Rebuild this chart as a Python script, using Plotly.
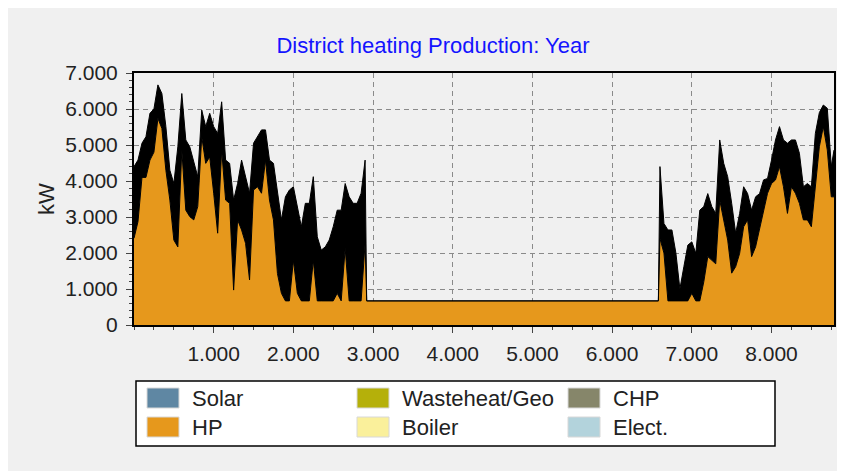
import plotly.graph_objects as go

# ---------------- data ----------------
hours = [0, 50, 100, 150, 200, 250, 300, 350, 400, 450, 500, 550, 600, 650, 700,
         750, 800, 850, 900, 950, 1000, 1050, 1100, 1150, 1200, 1250, 1300, 1350,
         1400, 1450, 1500, 1550, 1600, 1650, 1700, 1750, 1800, 1850, 1900, 1950,
         2000, 2050, 2100, 2150, 2200, 2250, 2300, 2350, 2400, 2450, 2500, 2550,
         2600, 2650, 2700, 2750, 2800, 2850, 2900, 2920, 6580, 6600, 6650, 6700,
         6750, 6800, 6850, 6900, 6950, 7000, 7050, 7100, 7150, 7200, 7250, 7300,
         7350, 7400, 7450, 7500, 7550, 7600, 7650, 7700, 7750, 7800, 7850, 7900,
         7950, 8000, 8050, 8100, 8150, 8200, 8250, 8300, 8350, 8400, 8450, 8500,
         8550, 8600, 8650, 8700, 8750, 8784]

# HP production (orange area)
hp = [2410, 2870, 4100, 4100, 4580, 4800, 5740, 5460, 4300, 3470, 2360, 2170, 4860,
      3190, 3010, 2920, 3290, 5230, 4490, 4670, 3660, 2550, 4860, 3470, 3380, 970,
      2920, 2640, 2270, 1250, 3750, 3840, 3660, 4580, 3470, 2920, 1430, 880, 670,
      670, 1800, 880, 670, 670, 670, 1800, 670, 670, 670, 670, 670, 880, 670, 2130,
      670, 670, 670, 670, 2270, 670, 670, 2400, 2000, 670, 670, 670, 670, 670, 670,
      880, 670, 670, 1200, 1900, 1800, 1700, 3470, 2920, 2360, 1440, 1620, 1990,
      2730, 2920, 1900, 2170, 2640, 3100, 3660, 3930, 4030, 4400, 3840, 3100, 3840,
      3660, 3380, 2920, 2920, 2730, 3750, 4950, 5510, 4860, 3560, 3560]

# Total production (black line, upper envelope)
total = [4400, 4580, 5050, 5230, 5880, 6000, 6670, 6430, 5510, 4300, 3930, 4950,
         6430, 5140, 4950, 4490, 4120, 5970, 5510, 5880, 5510, 5320, 6200, 4580,
         4490, 3470, 3930, 4580, 4120, 3660, 5050, 5230, 5420, 5420, 4580, 4490,
         3660, 2920, 3560, 3750, 3840, 3290, 2730, 3380, 3380, 4120, 2450, 2080,
         2170, 2360, 2730, 3190, 3190, 3930, 3560, 3380, 3380, 3660, 4580, 670, 670,
         4400, 2820, 2640, 2640, 2000, 1000, 1620, 2220, 2310, 1990, 3190, 3290,
         3650, 3290, 3100, 5140, 4490, 4120, 3380, 2550, 3100, 3840, 3650, 3190,
         3560, 3650, 4030, 4070, 4580, 5140, 5510, 5140, 5050, 5140, 5140, 4770,
         3840, 3930, 3840, 5320, 5900, 6110, 6020, 4400, 4860]

x_tick_vals = [1000, 2000, 3000, 4000, 5000, 6000, 7000, 8000]
x_tick_text = ["1.000", "2.000", "3.000", "4.000", "5.000", "6.000", "7.000", "8.000"]
y_tick_vals = [0, 1000, 2000, 3000, 4000, 5000, 6000, 7000]
y_tick_text = ["0", "1.000", "2.000", "3.000", "4.000", "5.000", "6.000", "7.000"]

legend_names = ["Solar", "Wasteheat/Geo", "CHP", "HP", "Boiler", "Elect."]
legend_colors = ["#5f87a3", "#b5b00a", "#86866a", "#e6981c", "#faf09b", "#b3d3dc"]

title_text = "District heating Production: Year"
y_title = "kW"

# ---------------- layout geometry (pixels in the page) ----------------
PAGE_W, PAGE_H = 845, 471
OFF = 8                       # default body margin of the html page
W, H = PAGE_W, PAGE_H - OFF   # figure runs to the right edge of the window
L, R, T, B = 134, 834, 73, 325   # plot frame in page pixels
FONT = "Liberation Sans"
FS_TICK = 21
FS_TEXT = 22


def px(x):
    return (x - L) / (R - L)


def py(y):
    return (B - y) / (B - T)


fig = go.Figure()
fig.add_trace(go.Scatter(
    x=hours, y=hp, mode="lines", line=dict(color="black", width=1),
    fill="tozeroy", fillcolor=legend_colors[3], showlegend=False, name="HP"))
fig.add_trace(go.Scatter(
    x=hours, y=total, mode="lines", line=dict(color="black", width=1),
    fill="tonexty", fillcolor="black", showlegend=False, name="Total"))

shapes = []
# legend box
shapes.append(dict(type="rect", xref="paper", yref="paper",
                   x0=px(136), x1=px(775), y0=py(446), y1=py(381),
                   fillcolor="white", line=dict(color="black", width=1.5), layer="above"))

annotations = []
col_x = [147, 357, 568]
row_y = [388, 417]
for i, (name, col) in enumerate(zip(legend_names, legend_colors)):
    r, c = divmod(i, 3)
    x0 = col_x[c]
    y0 = row_y[r]
    shapes.append(dict(type="rect", xref="paper", yref="paper",
                       x0=px(x0), x1=px(x0 + 32), y0=py(y0 + 20), y1=py(y0),
                       fillcolor=col, line=dict(color="#d8d8d8", width=1), layer="above"))
    annotations.append(dict(xref="paper", yref="paper", x=px(x0 + 43), y=py(y0 + 10),
                            text=name, showarrow=False, xanchor="left", yanchor="middle",
                            font=dict(family=FONT, size=FS_TEXT, color="#222222")))

annotations.append(dict(xref="paper", yref="paper", x=px(46), y=py(199), text=y_title,
                        textangle=-90, showarrow=False, xanchor="center", yanchor="middle",
                        font=dict(family=FONT, size=FS_TEXT, color="#222222")))

axis_common = dict(
    showline=True, linecolor="black", linewidth=2, mirror=True,
    ticks="outside", tickcolor="#444444", tickwidth=1,
    showgrid=True, gridcolor="#8a8a8a", gridwidth=1, griddash="5px,4px",
    zeroline=False, tickfont=dict(family=FONT, size=FS_TICK, color="#222222"),
    fixedrange=True,
)

fig.update_layout(
    width=W, height=H,
    margin=dict(l=L - OFF, r=PAGE_W + OFF - R, t=T - OFF, b=PAGE_H - B, pad=0),
    paper_bgcolor="#f0f0f0", plot_bgcolor="#f0f0f0",
    title=dict(text=title_text, xref="paper", yref="container",
               x=px(433), y=1 - (45 - OFF) / H, xanchor="center", yanchor="middle",
               font=dict(family=FONT, size=FS_TEXT, color="#1414ff")),
    xaxis=dict(range=[0, 8784], tickmode="array", tickvals=x_tick_vals,
               ticktext=x_tick_text, ticklen=6, ticklabelstandoff=3,
               minor=dict(tickmode="linear", tick0=0, dtick=250, ticks="outside",
                          ticklen=3, tickcolor="#444444", showgrid=False),
               **axis_common),
    yaxis=dict(range=[0, 7000], tickmode="array", tickvals=y_tick_vals,
               ticktext=y_tick_text, ticklen=6, ticklabelstandoff=4,
               minor=dict(tickmode="linear", tick0=0, dtick=200, ticks="outside",
                          ticklen=3, tickcolor="#444444", showgrid=False),
               **axis_common),
    shapes=shapes, annotations=annotations, showlegend=False,
)

fig.write_html("out.html")
